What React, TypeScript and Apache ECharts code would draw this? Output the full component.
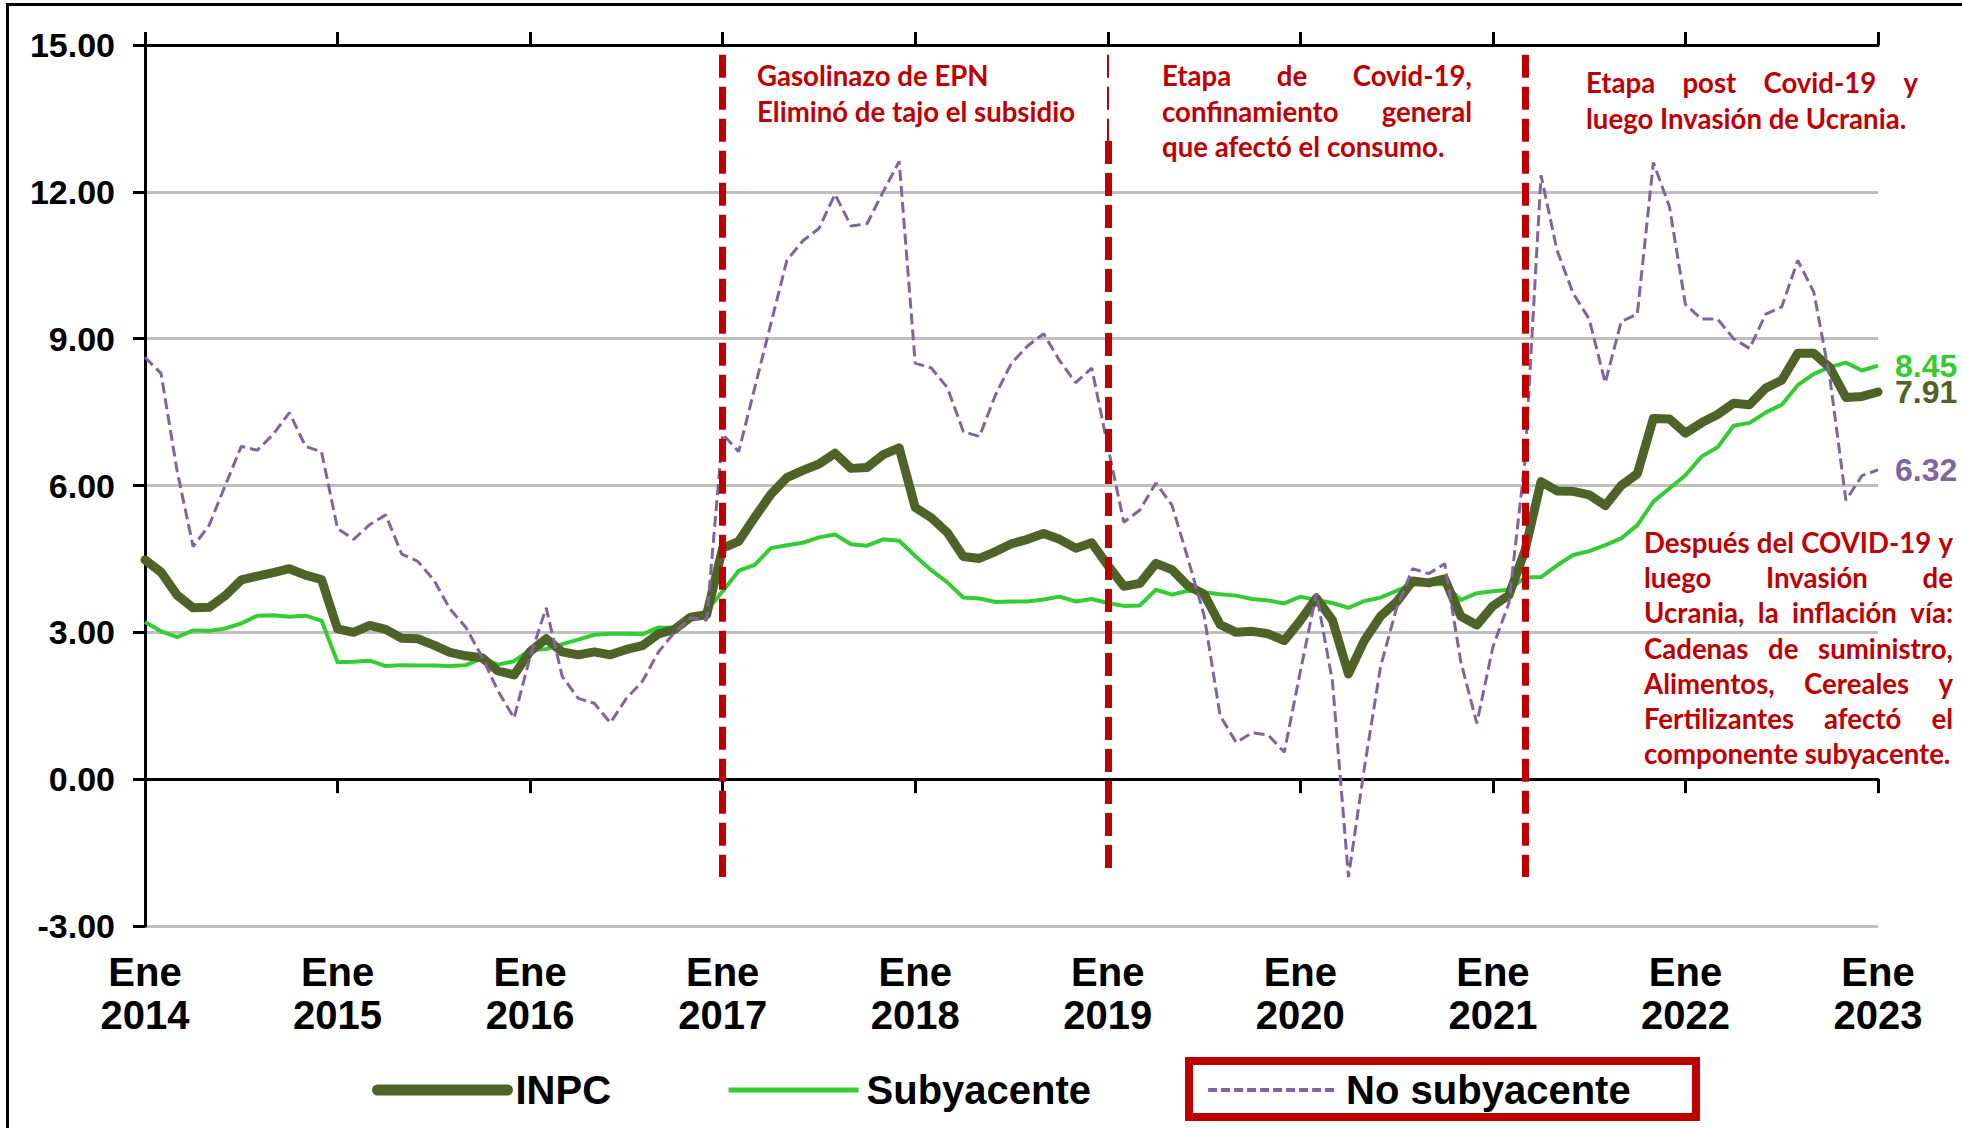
import React, { useEffect, useRef } from "react";
import * as echarts from "echarts";

// ---------- categories ----------
const years = [2014, 2015, 2016, 2017, 2018, 2019, 2020, 2021, 2022];
const monthNames = ["Ene", "Feb", "Mar", "Abr", "May", "Jun", "Jul", "Ago", "Sep", "Oct", "Nov", "Dic"];
const lastCategory = "Ene 2023";

// ---------- series values (annual % inflation) ----------
const inpc = [
  4.48, 4.23, 3.76, 3.5, 3.51, 3.75, 4.07, 4.15, 4.22, 4.3, 4.17, 4.08,
  3.07, 3.0, 3.14, 3.06, 2.88, 2.87, 2.74, 2.59, 2.52, 2.48, 2.21, 2.13,
  2.61, 2.87, 2.6, 2.54, 2.6, 2.54, 2.65, 2.73, 2.97, 3.06, 3.31, 3.36,
  4.72, 4.86, 5.35, 5.82, 6.16, 6.31, 6.44, 6.66, 6.35, 6.37, 6.63, 6.77,
  5.55, 5.34, 5.04, 4.55, 4.51, 4.65, 4.81, 4.9, 5.02, 4.9, 4.72, 4.83,
  4.37, 3.94, 4.0, 4.41, 4.28, 3.95, 3.78, 3.16, 3.0, 3.02, 2.97, 2.83,
  3.24, 3.7, 3.25, 2.15, 2.84, 3.33, 3.62, 4.05, 4.01, 4.09, 3.33, 3.15,
  3.54, 3.76, 4.67, 6.08, 5.89, 5.88, 5.81, 5.59, 6.0, 6.24, 7.37, 7.36,
  7.07, 7.28, 7.45, 7.68, 7.65, 7.99, 8.15, 8.7, 8.7, 8.41, 7.8, 7.82,
  7.91,
];

const subyacente = [
  3.21, 3.02, 2.9, 3.04, 3.03, 3.08, 3.18, 3.34, 3.35, 3.32, 3.34, 3.24,
  2.39, 2.4, 2.42, 2.31, 2.33, 2.32, 2.32, 2.31, 2.33, 2.47, 2.34, 2.41,
  2.64, 2.66, 2.76, 2.85, 2.95, 2.97, 2.97, 2.96, 3.1, 3.09, 3.29, 3.44,
  3.84, 4.26, 4.38, 4.72, 4.78, 4.83, 4.94, 5.0, 4.8, 4.77, 4.9, 4.87,
  4.56, 4.27, 4.02, 3.71, 3.69, 3.62, 3.63, 3.63, 3.67, 3.73, 3.63, 3.68,
  3.6, 3.54, 3.55, 3.87, 3.77, 3.85, 3.82, 3.78, 3.75, 3.68, 3.65, 3.59,
  3.73, 3.66, 3.6, 3.5, 3.64, 3.71, 3.85, 3.97, 3.99, 3.98, 3.66, 3.8,
  3.84, 3.87, 4.12, 4.13, 4.37, 4.58, 4.66, 4.78, 4.92, 5.19, 5.67, 5.94,
  6.21, 6.59, 6.78, 7.22, 7.28, 7.49, 7.65, 8.05, 8.28, 8.42, 8.51, 8.35,
  8.45,
];

const noSubyacente = [
  8.62, 8.29, 6.3, 4.75, 5.19, 6.0, 6.8, 6.72, 7.05, 7.49, 6.8, 6.69,
  5.12, 4.9, 5.2, 5.4, 4.6, 4.45, 4.07, 3.48, 3.1, 2.5, 1.8, 1.25,
  2.5, 3.5, 2.1, 1.65, 1.55, 1.15, 1.65, 2.0, 2.6, 3.0, 3.3, 3.25,
  7.05, 6.69, 8.0, 9.3, 10.6, 11.0, 11.25, 11.95, 11.3, 11.35, 12.0, 12.62,
  8.5, 8.4, 8.0, 7.1, 7.0, 7.85, 8.5, 8.85, 9.1, 8.55, 8.1, 8.4,
  6.8, 5.25, 5.5, 6.05, 5.6, 4.5, 3.35, 1.3, 0.75, 0.95, 0.9, 0.55,
  2.2, 3.8, 2.0, -2.0, 0.25, 2.3, 3.5, 4.3, 4.2, 4.4, 2.4, 1.14,
  2.7, 3.6, 6.5, 12.34, 10.8, 9.93, 9.4, 8.1, 9.35, 9.5, 12.6, 11.7,
  9.7, 9.4, 9.4, 9.0, 8.8, 9.5, 9.65, 10.6, 9.95, 8.2, 5.7, 6.2,
  6.32,
];

// ---------- axis ----------
const yMin = -3;
const yMax = 15;
const yStep = 3;

// ---------- event markers (category, from value, to value) ----------
const markerCategories = ["Ene 2017", "Ene 2019", "Mar 2021"];
const markerTop = 14.8;
const markerTopThin = 13.04; // second marker: thin upper part ends here
const markerBottom = -2.0;

// ---------- annotation texts ----------
const note1 = ["Gasolinazo de EPN", "Eliminó de tajo el subsidio"];
const note2 = ["Etapa de Covid-19,", "confinamiento general", "que afectó el consumo."];
const note3 = ["Etapa post Covid-19 y", "luego Invasión de Ucrania."];
const note4 = [
  "Después del COVID-19 y",
  "luego Invasión de",
  "Ucrania, la inflación vía:",
  "Cadenas de suministro,",
  "Alimentos, Cereales y",
  "Fertilizantes afectó el",
  "componente subyacente.",
];

const AXIS_FONT = "'Liberation Sans', Arial, sans-serif";
const NOTE_FONT = "Lato, 'Open Sans', 'Noto Sans', sans-serif";
const RED = "#c00000";
const OLIVE = "#4f6228";
const GREEN = "#33cc33";
const PURPLE = "#8064a2";

let measureCtx: CanvasRenderingContext2D | null = null;
function textWidth(text: string, size: number): number {
  if (!measureCtx) measureCtx = document.createElement("canvas").getContext("2d");
  if (!measureCtx) return text.length * size * 0.5;
  measureCtx.font = `bold ${size}px ${NOTE_FONT}`;
  return measureCtx.measureText(text).width;
}

function noteText(text: string, x: number, y: number, size: number) {
  return {
    type: "text",
    x,
    y,
    silent: true,
    z: 100,
    style: {
      text,
      fill: RED,
      fontSize: size,
      fontWeight: "bold",
      fontFamily: NOTE_FONT,
      textAlign: "left",
      textVerticalAlign: "middle",
      verticalAlign: "middle",
    },
  };
}

function paragraph(
  lines: string[],
  left: number,
  right: number,
  firstBaseline: number,
  lineGap: number,
  justifyCount: number,
  size: number
) {
  const els: any[] = [];
  lines.forEach((line, i) => {
    const y = firstBaseline + i * lineGap - size * 0.38;
    const words = line.split(/\s+/);
    if (i < justifyCount && words.length > 1) {
      const widths = words.map((w) => textWidth(w, size));
      const total = widths.reduce((a, b) => a + b, 0);
      const gap = (right - left - total) / (words.length - 1);
      let x = left;
      words.forEach((w, j) => {
        els.push(noteText(w, x, y, size));
        x += widths[j] + gap;
      });
    } else {
      els.push(noteText(line, left, y, size));
    }
  });
  return els;
}

function buildCategories(): string[] {
  const out: string[] = [];
  years.forEach((y) => monthNames.forEach((m) => out.push(`${m} ${y}`)));
  out.push(lastCategory);
  return out;
}

export default function App() {
  const ref = useRef<HTMLDivElement>(null);

  useEffect(() => {
    if (!ref.current) return;
    const chart = echarts.init(ref.current, undefined, { renderer: "svg" });
    const categories = buildCategories();

    // font size of the notes, matched to the reference line width
    let noteSize = 27;
    const w = textWidth(note1[1], 27);
    if (w > 0) noteSize = Math.max(23, Math.min(31, (27 * 318) / w));

    const endLabel = (color: string) => ({
      show: true,
      distance: 17,
      color,
      fontSize: 32,
      fontWeight: "bold",
      fontFamily: AXIS_FONT,
      formatter: (p: any) => Number(Array.isArray(p.value) ? p.value[1] : p.value).toFixed(2),
    });

    const thickStyle = { color: RED, width: 7, type: [23, 9] };
    const hiddenSymbol = { opacity: 0, borderWidth: 0, color: "rgba(0,0,0,0)" };

    const option: any = {
      animation: false,
      backgroundColor: "#ffffff",
      grid: {
        left: 145,
        right: 84,
        top: 45,
        bottom: 202,
        containLabel: false,
        outerBoundsMode: "none",
      },
      legend: {
        left: 372,
        top: 1068,
        orient: "horizontal",
        itemWidth: 130,
        itemHeight: 14,
        itemGap: 115,
        padding: 0,
        selectedMode: false,
        textStyle: {
          fontSize: 40,
          fontWeight: "bold",
          fontFamily: AXIS_FONT,
          color: "#000",
          lineHeight: 44,
          padding: [0, 0, 0, 3],
        },
        data: [
          { name: "INPC", lineStyle: { width: 11, cap: "round", color: OLIVE }, itemStyle: hiddenSymbol },
          { name: "Subyacente", lineStyle: { width: 5, color: GREEN }, itemStyle: hiddenSymbol },
          { name: "No subyacente", lineStyle: { width: 4, color: PURPLE, type: [9, 4] }, itemStyle: hiddenSymbol },
        ],
      },
      xAxis: [
        {
          type: "category",
          data: categories,
          boundaryGap: false,
          position: "bottom",
          axisLine: { show: true, onZero: true, lineStyle: { color: "#000", width: 3 } },
          axisTick: { show: true, interval: 11, length: 14, lineStyle: { color: "#000", width: 3 } },
          axisLabel: {
            interval: 11,
            margin: 24,
            fontSize: 40,
            lineHeight: 43,
            fontWeight: "bold",
            fontFamily: AXIS_FONT,
            color: "#000",
            formatter: (v: string) => v.replace(" ", "\n"),
          },
          splitLine: { show: false },
        },
        {
          type: "category",
          data: categories,
          boundaryGap: false,
          position: "top",
          axisLine: { show: true, onZero: true, lineStyle: { color: "#000", width: 3 } },
          axisTick: { show: true, interval: 11, length: 13, lineStyle: { color: "#000", width: 3 } },
          axisLabel: { show: false },
          splitLine: { show: false },
        },
      ],
      yAxis: {
        type: "value",
        min: yMin,
        max: yMax,
        interval: yStep,
        axisLine: { show: true, onZero: false, lineStyle: { color: "#000", width: 3 } },
        axisTick: { show: true, length: 12, lineStyle: { color: "#000", width: 3 } },
        axisLabel: {
          margin: 30,
          fontSize: 34,
          fontWeight: "bold",
          fontFamily: AXIS_FONT,
          color: "#000",
          formatter: (v: number) => v.toFixed(2),
        },
        splitLine: { show: true, lineStyle: { color: "#bfbfbf", width: 3 } },
      },
      series: [
        {
          name: "INPC",
          type: "line",
          data: inpc,
          symbol: "none",
          z: 3,
          lineStyle: { color: OLIVE, width: 9, join: "round", cap: "round" },
          itemStyle: { color: OLIVE },
          endLabel: endLabel(OLIVE),
        },
        {
          name: "Subyacente",
          type: "line",
          data: subyacente,
          symbol: "none",
          z: 2,
          lineStyle: { color: GREEN, width: 4, join: "round" },
          itemStyle: { color: GREEN },
          endLabel: endLabel(GREEN),
        },
        {
          name: "No subyacente",
          type: "line",
          data: noSubyacente,
          symbol: "none",
          z: 4,
          lineStyle: { color: PURPLE, width: 3, type: [11, 5] },
          itemStyle: { color: PURPLE },
          endLabel: endLabel(PURPLE),
          markLine: {
            silent: true,
            z: 6,
            symbol: ["none", "none"],
            label: { show: false },
            emphasis: { disabled: true },
            data: [
              [
                { coord: [markerCategories[0], markerTop], lineStyle: thickStyle },
                { coord: [markerCategories[0], markerBottom] },
              ],
              [
                { coord: [markerCategories[1], markerTop], lineStyle: { color: RED, width: 2, type: [23, 9] } },
                { coord: [markerCategories[1], markerTopThin] },
              ],
              [
                { coord: [markerCategories[1], markerTopThin], lineStyle: thickStyle },
                { coord: [markerCategories[1], markerBottom] },
              ],
              [
                { coord: [markerCategories[2], markerTop], lineStyle: thickStyle },
                { coord: [markerCategories[2], markerBottom] },
              ],
            ],
          },
        },
      ],
      graphic: [
        // outer frame (top and left edges)
        { type: "line", silent: true, shape: { x1: 6, y1: 4.5, x2: 1962, y2: 4.5 }, style: { stroke: "#000", lineWidth: 3 } },
        { type: "line", silent: true, shape: { x1: 7.5, y1: 3, x2: 7.5, y2: 1128 }, style: { stroke: "#000", lineWidth: 3 } },
        // red box around "No subyacente" legend item
        {
          type: "rect",
          silent: true,
          shape: { x: 1189, y: 1061, width: 507, height: 56 },
          style: { fill: "none", stroke: RED, lineWidth: 8 },
        },
        ...paragraph(note1, 757, 1075, 86, 35.5, 0, noteSize),
        ...paragraph(note2, 1162, 1472, 86, 35.5, 2, noteSize),
        ...paragraph(note3, 1586, 1918, 93, 35.5, 1, noteSize),
        ...paragraph(note4, 1644, 1953, 553, 35.2, 6, noteSize),
      ],
    };

    chart.setOption(option);
    return () => chart.dispose();
  }, []);

  return (
    <div
      ref={ref}
      style={{ position: "absolute", left: 0, top: 0, width: 1962, height: 1128, background: "#fff" }}
    />
  );
}
